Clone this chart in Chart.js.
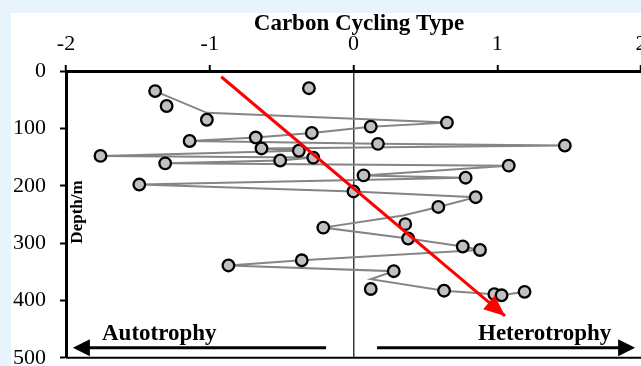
<!DOCTYPE html>
<html>
<head>
<meta charset="utf-8">
<script src="https://cdn.jsdelivr.net/npm/chart.js@4.4.1/dist/chart.umd.min.js"></script>
<style>
  html, body { margin: 0; padding: 0; width: 641px; height: 366px; overflow: hidden; background: #e8f4fc; }
  #panel { position: absolute; left: 11px; top: 13px; width: 660px; height: 372px; background: #fff; }
</style>
</head>
<body>
<div id="panel"><canvas id="cc" width="660" height="372"></canvas></div>
<script>
// sample points: carbon cycling type vs depth
const markerType  = [-0.31, -1.38, -1.30, -1.02, 0.65, 0.12, -0.29, -0.68, -1.14, 0.17, 1.47, -0.64, -0.38, -1.76, -0.28, -0.51, -1.31, 1.08, 0.07, 0.78, -1.49, 0.00, 0.85, 0.59, 0.36, -0.21, 0.38, 0.76, 0.88, -0.36, -0.87, 0.28, 0.12, 0.63, 1.19, 0.98, 1.03];
const markerDepth = [30, 35, 61, 85, 90, 97, 108, 116, 122, 127, 130, 135, 139, 148, 151, 156, 161, 165, 182, 186, 198, 210, 220, 237, 267, 273, 292, 306, 312, 330, 339, 349, 380, 383, 385, 389, 391];

// connecting profile line
const lineType  = [-1.38, -1.02, 0.65, 0.12, -0.29, -0.68, -1.14, 0.17, 1.47, -0.64, -0.38, -1.76, -0.28, -0.51, -1.31, 1.08, 0.07, 0.78, -1.49, 0.00, 0.85, 0.59, 0.345, -0.21, 0.38, 0.76, 0.88, -0.36, -0.87, 0.28, 0.12, 0.63, 0.98, 1.03, 1.19];
const lineDepth = [35, 73, 90, 97, 108, 116, 122, 127, 130, 135, 139, 148, 151, 156, 161, 165, 182, 186, 198, 210, 220, 237, 252, 273, 292, 306, 312, 330, 339, 349, 363, 383, 389, 391, 385];

// trend arrow (tail, tip)
const trendType  = [-0.92, 1.054];
const trendDepth = [10, 427];

// autotrophy / heterotrophy arrows
const arrowType  = [-0.191, -1.952, 0.164, 1.959];
const arrowDepth = 482.6;

const typeTicks  = [-2, -1, 0, 1, 2];
const depthTicks = [0, 100, 200, 300, 400, 500];

const serif = 'Liberation Serif, Times New Roman, serif';

function pts(xs, ys) {
  return xs.map((v, i) => ({ x: v, y: Array.isArray(ys) ? ys[i] : ys }));
}

function head(ctx, x0, y0, x1, y1, len, half) {
  const a = Math.atan2(y1 - y0, x1 - x0);
  ctx.beginPath();
  ctx.moveTo(x1, y1);
  ctx.lineTo(x1 - len * Math.cos(a) + half * Math.sin(a), y1 - len * Math.sin(a) - half * Math.cos(a));
  ctx.lineTo(x1 - len * Math.cos(a) - half * Math.sin(a), y1 - len * Math.sin(a) + half * Math.cos(a));
  ctx.closePath();
  ctx.fill();
}

const extras = {
  id: 'extras',
  afterDatasetsDraw(chart) {
    const { ctx, chartArea: a, scales: { x, y } } = chart;
    ctx.save();

    // frame line along 500 m
    ctx.strokeStyle = '#000';
    ctx.lineWidth = 2;
    ctx.beginPath();
    ctx.moveTo(a.left, a.bottom);
    ctx.lineTo(a.right + 40, a.bottom);
    ctx.stroke();

    // red arrowhead
    ctx.fillStyle = '#ff0000';
    head(ctx,
      x.getPixelForValue(trendType[0]), y.getPixelForValue(trendDepth[0]),
      x.getPixelForValue(trendType[1]), y.getPixelForValue(trendDepth[1]), 21, 9);

    // direction arrows
    const ay = y.getPixelForValue(arrowDepth);
    ctx.strokeStyle = '#000';
    ctx.fillStyle = '#000';
    ctx.lineWidth = 3;
    for (let i = 0; i < 4; i += 2) {
      const xa = x.getPixelForValue(arrowType[i]);
      const xb = x.getPixelForValue(arrowType[i + 1]);
      const dir = Math.sign(xb - xa);
      ctx.beginPath();
      ctx.moveTo(xa, ay);
      ctx.lineTo(xb - dir * 10, ay);
      ctx.stroke();
      head(ctx, xa, ay, xb, ay, 17, 8.5);
    }

    ctx.font = 'bold 23px ' + serif;
    ctx.textBaseline = 'alphabetic';
    ctx.textAlign = 'left';
    ctx.fillText('Autotrophy', 91, 327);
    ctx.fillText('Heterotrophy', 467, 327);

    // depth axis label inside the plot
    ctx.save();
    ctx.translate(71, 199);
    ctx.rotate(-Math.PI / 2);
    ctx.textAlign = 'center';
    ctx.font = 'bold 17px ' + serif;
    ctx.fillText('Depth/m', 0, 0);
    ctx.restore();

    // title
    ctx.textAlign = 'center';
    ctx.font = 'bold 23px ' + serif;
    ctx.fillText('Carbon Cycling Type', 348, 17);

    ctx.restore();
  }
};

new Chart(document.getElementById('cc'), {
  type: 'scatter',
  data: {
    datasets: [
      {
        data: pts(trendType, trendDepth),
        showLine: true,
        borderColor: '#ff0000',
        borderWidth: 3,
        pointRadius: 0,
        order: 0
      },
      {
        data: pts(markerType, markerDepth),
        showLine: false,
        pointRadius: 5.8,
        pointBackgroundColor: '#c0c0c0',
        pointBorderColor: '#000',
        pointBorderWidth: 2.3,
        order: 1
      },
      {
        data: pts(lineType, lineDepth),
        showLine: true,
        borderColor: '#858585',
        borderWidth: 2,
        pointRadius: 0,
        order: 2
      }
    ]
  },
  options: {
    responsive: false,
    devicePixelRatio: 1,
    animation: false,
    layout: { padding: { left: 0, top: 0, right: 30, bottom: 26 } },
    plugins: { legend: { display: false }, tooltip: { enabled: false } },
    scales: {
      x: {
        type: 'linear',
        position: 'top',
        min: -2,
        max: 2,
        afterFit: s => { s.height = 58; },
        afterBuildTicks: s => { s.ticks = typeTicks.map(v => ({ value: v })); },
        ticks: {
          font: { family: serif, size: 22 },
          color: '#000',
          padding: 8,
          maxRotation: 0
        },
        grid: {
          color: c => (c.tick && c.tick.value === 0 ? '#3a3a3a' : 'rgba(0,0,0,0)'),
          lineWidth: 1.5,
          tickColor: '#000',
          tickWidth: 2,
          tickLength: 6
        },
        border: { color: '#000', width: 3 }
      },
      y: {
        type: 'linear',
        reverse: true,
        min: 0,
        max: 500,
        afterFit: s => { s.width = 55; },
        afterBuildTicks: s => { s.ticks = depthTicks.map(v => ({ value: v })); },
        ticks: {
          font: { family: serif, size: 22 },
          color: '#000',
          padding: 14
        },
        grid: {
          drawOnChartArea: false,
          tickColor: '#000',
          tickWidth: 2,
          tickLength: 6
        },
        border: { color: '#000', width: 3 }
      }
    }
  },
  plugins: [extras]
});
</script>
</body>
</html>
